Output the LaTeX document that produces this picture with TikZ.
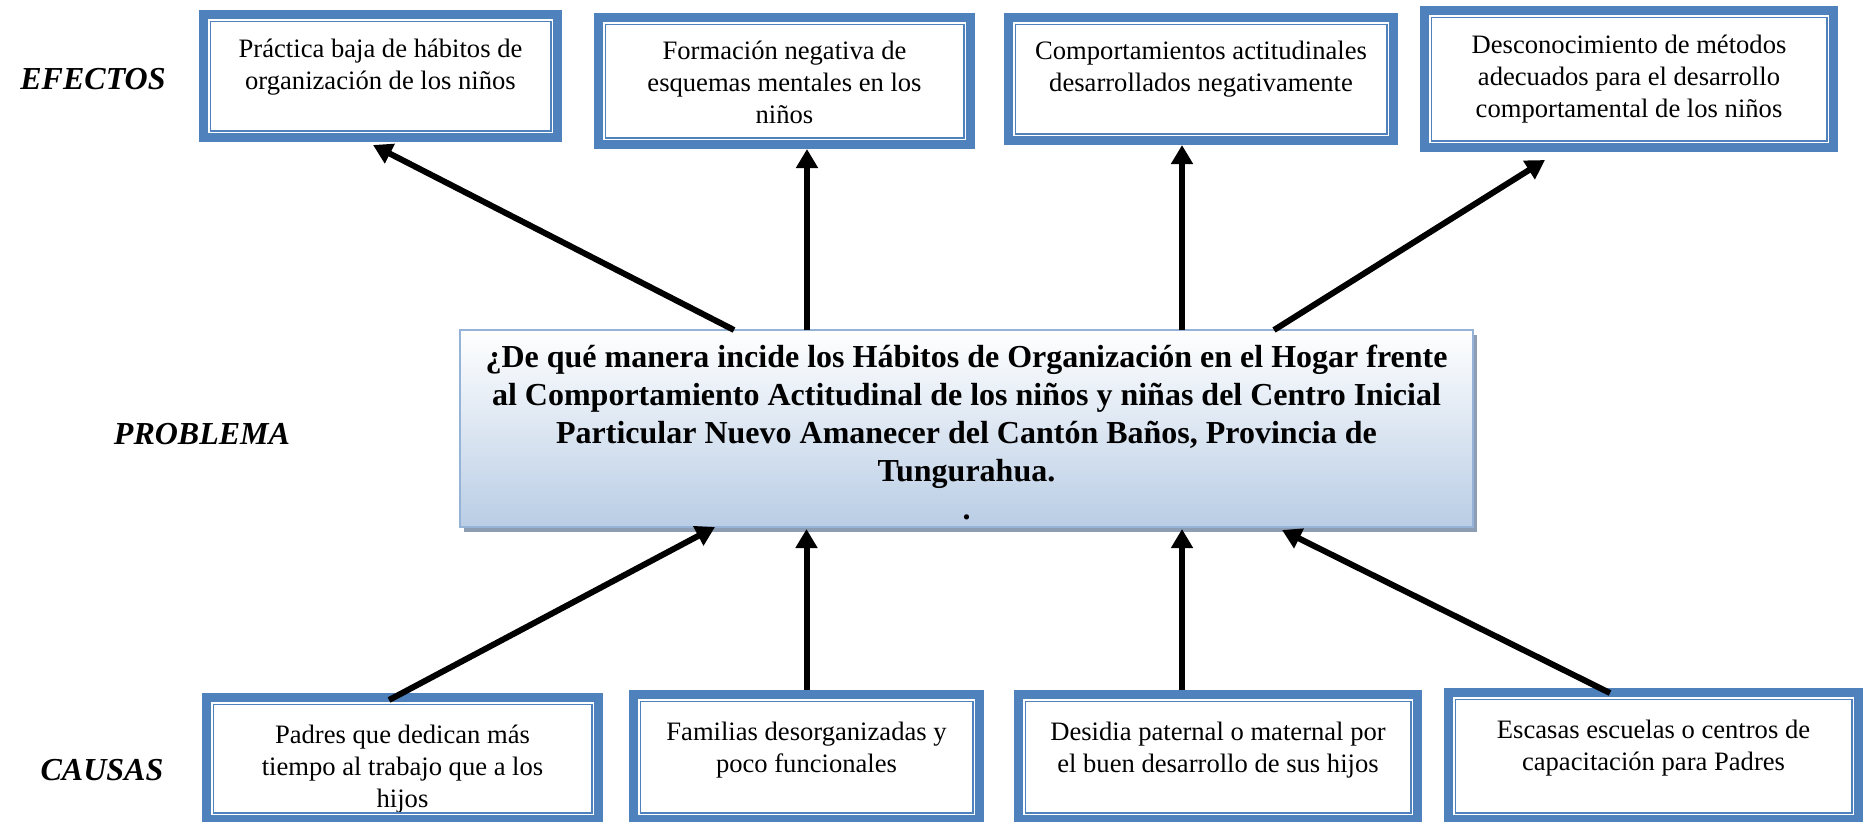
\documentclass[tikz,border=0pt]{standalone}
\usepackage{fontspec}
\setmainfont{Liberation Serif}
\usetikzlibrary{arrows.meta,fit,shadows}
\definecolor{frameblue}{HTML}{4F81BD}
\definecolor{ctrborder}{HTML}{95B3D7}
\definecolor{ctrshadow}{HTML}{8C9DB4}
\definecolor{ctrbottom}{HTML}{B9CDE5}
\newcommand\dblframe[1]{%
  \draw[bandline] ([shift={(4.5,4.5)}]#1.north west) rectangle ([shift={(-4.5,-4.5)}]#1.south east);
  \draw[thinline] ([shift={(11.25,11.25)}]#1.north west) rectangle ([shift={(-11.25,-11.25)}]#1.south east);}
\newcommand\fstrut{\rule{0pt}{11pt}}
\begin{document}
\begin{tikzpicture}[x=0.5pt,y=-0.5pt,
  boxarea/.style={inner sep=0pt, outer sep=0pt, fill=white},
  bandline/.style={draw=frameblue, line width=4.5pt},
  thinline/.style={draw=frameblue, line width=0.75pt},
  btxt/.style={inner sep=0pt, align=center, font=\fontsize{13.3}{16}\selectfont, anchor=north},
  ctxt/.style={inner sep=0pt, align=center, font=\fontsize{16}{19}\selectfont\bfseries, anchor=north},
  ctrbox/.style={inner sep=0pt, outer sep=0pt, draw=ctrborder, line width=1pt,
     top color=white, bottom color=ctrbottom,
     general shadow={fill=ctrshadow, shadow xshift=2pt, shadow yshift=-2.5pt}},
  side/.style={inner sep=0pt, font=\fontsize{16}{19}\selectfont\bfseries\itshape},
  arr/.style={line width=3pt, -{Triangle[length=9.5pt,width=10.5pt]}},
]
\clip (0,0) rectangle (1866,821);
\fill[white] (0,0) rectangle (1866,821);

% side labels
\node[side] (lef) at (93,79) {EFECTOS};
\node[side] (lpr) at (202,434) {PROBLEMA};
\node[side] (lca) at (102,770) {CAUSAS};

% effect boxes
\node[boxarea, fit={(199,10) (562,142)}] (e1) {};
\node[boxarea, fit={(594,13) (975,149)}] (e2) {};
\node[boxarea, fit={(1004,13) (1398,145)}] (e3) {};
\node[boxarea, fit={(1420,6) (1838,152)}] (e4) {};
\node[btxt] (e1t) at ([shift={(0,25)}]e1.north) {\fstrut Práctica baja de hábitos de\\organización de los niños};
\node[btxt] (e2t) at ([shift={(0,24)}]e2.north) {\fstrut Formación negativa de\\esquemas mentales en los\\niños};
\node[btxt] (e3t) at ([shift={(0,24)}]e3.north) {\fstrut Comportamientos actitudinales\\desarrollados negativamente};
\node[btxt] (e4t) at ([shift={(0,25)}]e4.north) {\fstrut Desconocimiento de métodos\\adecuados para el desarrollo\\comportamental de los niños};
\dblframe{e1}\dblframe{e2}\dblframe{e3}\dblframe{e4}

% cause boxes
\node[boxarea, fit={(202,693) (603,824)}] (b1) {};
\node[boxarea, fit={(629,690) (984,824)}] (b2) {};
\node[boxarea, fit={(1014,690) (1422,824)}] (b3) {};
\node[boxarea, fit={(1444,688) (1863,824)}] (b4) {};
\begin{scope}
  \clip ([shift={(12,12)}]b1.north west) rectangle ([shift={(-12,-12)}]b1.south east);
  \node[btxt] (b1t) at ([shift={(0,28)}]b1.north) {\fstrut Padres que dedican más\\tiempo al trabajo que a los\\hijos};
\end{scope}
\node[btxt] (b2t) at ([shift={(0,28)}]b2.north) {\fstrut Familias desorganizadas y\\poco funcionales};
\node[btxt] (b3t) at ([shift={(0,28)}]b3.north) {\fstrut Desidia paternal o maternal por\\el buen desarrollo de sus hijos};
\node[btxt] (b4t) at ([shift={(0,28)}]b4.north) {\fstrut Escasas escuelas o centros de\\capacitación para Padres};
\dblframe{b1}\dblframe{b2}\dblframe{b3}\dblframe{b4}

% problem box
\node[ctrbox, fit={(460,330) (1473,527)}] (ctr) {};
\node[ctxt] (ctrt) at ([shift={(0,11)}]ctr.north) {\rule{0pt}{13pt}¿De qué manera incide los Hábitos de Organización en el Hogar frente\\al Comportamiento Actitudinal de los niños y niñas del Centro Inicial\\Particular Nuevo Amanecer del Cantón Baños, Provincia de\\Tungurahua.\\.};

% effect arrows
\coordinate (a2s) at ([shift={(347,0)}]ctr.north west);
\coordinate (a3s) at ([shift={(722,0)}]ctr.north west);
\draw[arr] ([shift={(274,0)}]ctr.north west) -- ([shift={(-7.5,3)}]e1.south);
\draw[arr] (a2s) -- (a2s |- e2.south);
\draw[arr] (a3s) -- (a3s |- e3.south);
\draw[arr] ([shift={(814,0)}]ctr.north west) -- ([shift={(-84,8)}]e4.south);

% cause arrows
\coordinate (c3s) at ([shift={(-36,0)}]b3.north);
\coordinate (c2e) at (b2.north |- ctr.south);
\coordinate (c3e) at (c3s |- ctr.south);
\draw[arr] ([shift={(-13.5,7)}]b1.north) -- ([shift={(255,0)}]ctr.south west);
\draw[arr] (b2.north) -- ([shift={(0,2)}]c2e);
\draw[arr] (c3s) -- ([shift={(0,2)}]c3e);
\draw[arr] ([shift={(-43.5,5)}]b4.north) -- ([shift={(822,3)}]ctr.south west);
\end{tikzpicture}
\end{document}
